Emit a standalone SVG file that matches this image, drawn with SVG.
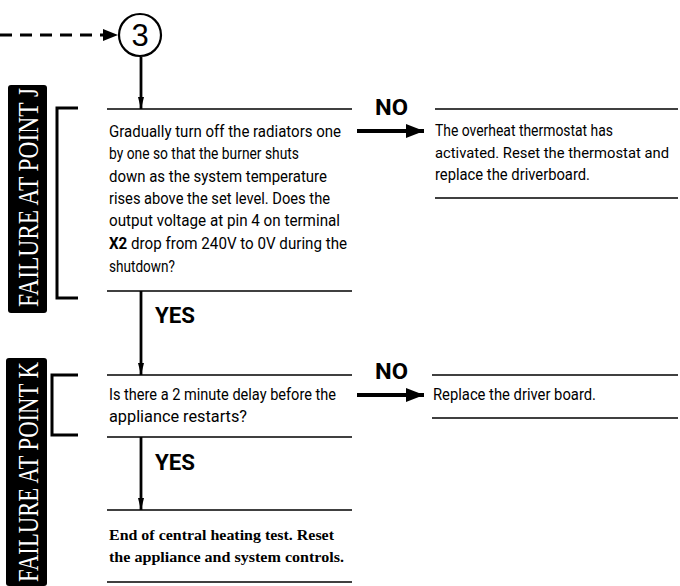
<svg xmlns="http://www.w3.org/2000/svg" width="680" height="586" viewBox="0 0 680 586">
<style>
.rule{stroke:#000;stroke-width:1.6;fill:none}
.brk{stroke:#000;stroke-width:3;fill:none}
.body{font-family:"Liberation Sans Narrow","Roboto","Open Sans",sans-serif;font-size:16px;fill:#000}
.end{font-family:"Liberation Serif","DejaVu Serif",serif;font-size:15.5px;font-weight:bold;fill:#000}
.lbl{font-family:"Liberation Sans Narrow","Roboto","Liberation Sans",sans-serif;font-size:22px;font-weight:bold;fill:#000}
.side{font-family:"Liberation Serif","DejaVu Serif",serif;font-size:30px;fill:#fff}
.conn{stroke:#000;fill:none}
</style>
<defs>
<marker id="hv" markerUnits="userSpaceOnUse" markerWidth="12" markerHeight="22" refX="20" refY="5" viewBox="0 0 20 10" orient="auto"><path d="M0,0 L20,5 L0,10 Z" fill="#000"/></marker>
<marker id="hh" markerUnits="userSpaceOnUse" markerWidth="18" markerHeight="14" refX="17" refY="6.5" viewBox="0 0 17 13" orient="auto"><path d="M0,0 L17,6.5 L0,13 Z" fill="#000"/></marker>
<marker id="hd" markerUnits="userSpaceOnUse" markerWidth="16" markerHeight="12" refX="15" refY="6" viewBox="0 0 15 12" orient="auto"><path d="M0,0 L15,6 L0,12 Z" fill="#000"/></marker>
</defs>

<g id="connectors">
<line class="conn" x1="0" y1="35" x2="118" y2="35" stroke-width="3" stroke-dasharray="12 8" marker-end="url(#hd)"/>
<line class="conn" x1="141" y1="57" x2="141" y2="109" stroke-width="2.8" marker-end="url(#hv)"/>
<line class="conn" x1="141" y1="291" x2="141" y2="375" stroke-width="2.8" marker-end="url(#hv)"/>
<line class="conn" x1="141" y1="437" x2="141" y2="510" stroke-width="2.8" marker-end="url(#hv)"/>
<line class="conn" x1="357" y1="131" x2="424" y2="131" stroke-width="4" marker-end="url(#hh)"/>
<line class="conn" x1="357" y1="395" x2="424" y2="395" stroke-width="4" marker-end="url(#hh)"/>
<text class="lbl" x="155" y="323" textLength="40" lengthAdjust="spacingAndGlyphs">YES</text>
<text class="lbl" x="155" y="470" textLength="40" lengthAdjust="spacingAndGlyphs">YES</text>
<text class="lbl" x="375" y="115" textLength="33" lengthAdjust="spacingAndGlyphs">NO</text>
<text class="lbl" x="375" y="379" textLength="33" lengthAdjust="spacingAndGlyphs">NO</text>
</g>

<g id="start">
<circle cx="140" cy="35" r="21" fill="#fff" stroke="#000" stroke-width="2.2"/>
<text x="140" y="46" text-anchor="middle" font-family="Liberation Sans, Arial, sans-serif" font-size="31" fill="#000">3</text>
</g>

<g id="labelJ">
<rect x="8" y="85" width="39" height="228" rx="3" fill="#000"/>
<text class="side" transform="translate(38,307) rotate(-90)" textLength="219" lengthAdjust="spacingAndGlyphs">FAILURE AT POINT J</text>
<path class="brk" d="M78,108 H57 V298 H78"/>
</g>

<g id="labelK">
<rect x="6" y="358" width="41" height="228" rx="3" fill="#000"/>
<text class="side" transform="translate(38,582) rotate(-90)" textLength="220" lengthAdjust="spacingAndGlyphs">FAILURE AT POINT K</text>
<path class="brk" d="M78,375 H52 V435 H78"/>
</g>

<g id="nodeJ">
<line class="rule" x1="107" y1="109" x2="352" y2="109"/>
<text class="body" x="109" y="137" textLength="232" lengthAdjust="spacingAndGlyphs">Gradually turn off the radiators one</text>
<text class="body" x="109" y="159" textLength="190" lengthAdjust="spacingAndGlyphs">by one so that the burner shuts</text>
<text class="body" x="109" y="182" textLength="218" lengthAdjust="spacingAndGlyphs">down as the system temperature</text>
<text class="body" x="109" y="204" textLength="221" lengthAdjust="spacingAndGlyphs">rises above the set level. Does the</text>
<text class="body" x="109" y="226" textLength="231" lengthAdjust="spacingAndGlyphs">output voltage at pin 4 on terminal</text>
<text class="body" x="109" y="249" textLength="238" lengthAdjust="spacingAndGlyphs"><tspan font-weight="bold">X2</tspan> drop from 240V to 0V during the</text>
<text class="body" x="109" y="272" textLength="66" lengthAdjust="spacingAndGlyphs">shutdown?</text>
<line class="rule" x1="107" y1="291" x2="352" y2="291"/>
</g>

<g id="nodeJno">
<line class="rule" x1="435" y1="109" x2="678" y2="109"/>
<text class="body" x="435" y="136" textLength="178" lengthAdjust="spacingAndGlyphs">The overheat thermostat has</text>
<text class="body" x="435" y="158" style="font-size:14.5px" textLength="234" lengthAdjust="spacingAndGlyphs">activated. Reset the thermostat and</text>
<text class="body" x="435" y="180" textLength="155" lengthAdjust="spacingAndGlyphs">replace the driverboard.</text>
<line class="rule" x1="435" y1="198" x2="678" y2="198"/>
</g>

<g id="nodeK">
<line class="rule" x1="107" y1="375" x2="352" y2="375"/>
<text class="body" x="109" y="400" textLength="227" lengthAdjust="spacingAndGlyphs">Is there a 2 minute delay before the</text>
<text class="body" x="109" y="422" textLength="138" lengthAdjust="spacingAndGlyphs">appliance restarts?</text>
<line class="rule" x1="107" y1="437" x2="352" y2="437"/>
</g>

<g id="nodeKno">
<line class="rule" x1="432" y1="375" x2="678" y2="375"/>
<text class="body" x="433" y="400" textLength="163" lengthAdjust="spacingAndGlyphs">Replace the driver board.</text>
<line class="rule" x1="432" y1="418" x2="678" y2="418"/>
</g>

<g id="nodeEnd">
<line class="rule" x1="107" y1="510" x2="352" y2="510"/>
<text class="end" x="109" y="540" textLength="225" lengthAdjust="spacingAndGlyphs">End of central heating test. Reset</text>
<text class="end" x="109" y="562" textLength="235" lengthAdjust="spacingAndGlyphs">the appliance and system controls.</text>
<line class="rule" x1="107" y1="582" x2="352" y2="582"/>
</g>
</svg>
